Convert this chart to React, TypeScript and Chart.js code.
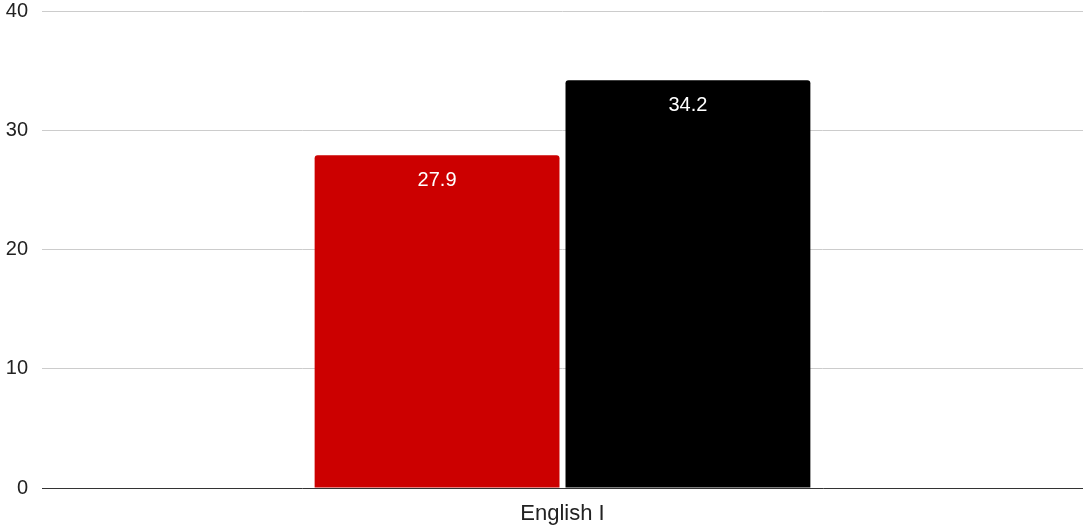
import React, { useEffect, useRef } from "react";
import { Chart, registerables } from "chart.js";

Chart.register(...registerables);

const categories = ["English I"];
const seriesA = [27.9];
const seriesB = [34.2];
const yTicks = [0, 10, 20, 30, 40];

const FONT = "'Liberation Sans', Arial, sans-serif";

const valueLabels = {
  id: "valueLabels",
  afterDatasetsDraw(chart: any) {
    const ctx = chart.ctx;
    ctx.save();
    ctx.fillStyle = "#ffffff";
    ctx.font = `20px ${FONT}`;
    ctx.textAlign = "center";
    ctx.textBaseline = "middle";
    chart.data.datasets.forEach((ds: any, i: number) => {
      const meta = chart.getDatasetMeta(i);
      meta.data.forEach((bar: any, j: number) => {
        ctx.fillText(String(ds.data[j]), bar.x, bar.y + 25);
      });
    });
    ctx.restore();
  },
};

export default function App() {
  const ref = useRef<HTMLCanvasElement>(null);
  useEffect(() => {
    document.body.style.margin = "0";
    const chart = new Chart(ref.current!, {
      type: "bar",
      data: {
        labels: categories,
        datasets: [
          { label: "A", data: seriesA, backgroundColor: "#cc0000", borderRadius: { topLeft: 3, topRight: 3 }, borderSkipped: false as any },
          { label: "B", data: seriesB, backgroundColor: "#000000", borderRadius: { topLeft: 3, topRight: 3 }, borderSkipped: false as any },
        ],
      },
      options: {
        animation: false,
        responsive: false,
        maintainAspectRatio: false,
        categoryPercentage: 0.482,
        barPercentage: 0.976,
        layout: { padding: 0 },
        plugins: { legend: { display: false }, tooltip: { enabled: false } },
        scales: {
          x: {
            grid: { display: false, drawTicks: false },
            border: { color: "#333333", width: 1 },
            ticks: { color: "#222222", font: { family: FONT, size: 22 }, padding: 13 },
            afterFit: (s: any) => {
              s.height = 38;
              s.paddingLeft = 0;
              s.paddingRight = 0;
            },
          },
          y: {
            min: 0,
            max: 40,
            afterBuildTicks: (axis: any) => {
              axis.ticks = yTicks.map((v) => ({ value: v }));
            },
            grid: { color: "#cccccc", drawTicks: false },
            border: { display: false },
            ticks: { color: "#222222", font: { family: FONT, size: 20 }, padding: 14 },
            afterFit: (s: any) => {
              s.width = 42;
              s.paddingTop = 11;
              s.paddingBottom = 0;
            },
          },
        },
      },
      plugins: [valueLabels],
    });
    return () => chart.destroy();
  }, []);
  return (
    <div style={{ width: 1083, height: 526 }}>
      <canvas ref={ref} width={1083} height={526} style={{ display: "block" }} />
    </div>
  );
}
